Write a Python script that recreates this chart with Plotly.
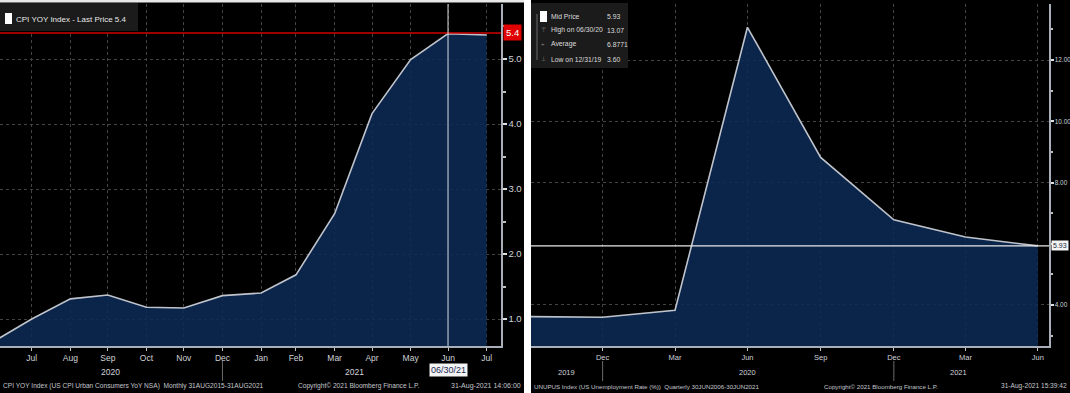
import plotly.graph_objects as go

# ---------------- data ----------------
cpi_dates = ["2020-06-30", "2020-07-31", "2020-08-31", "2020-09-30", "2020-10-31",
             "2020-11-30", "2020-12-31", "2021-01-31", "2021-02-28", "2021-03-31",
             "2021-04-30", "2021-05-31", "2021-06-30", "2021-07-31"]
cpi_values = [0.65, 1.0, 1.31, 1.37, 1.18, 1.17, 1.36, 1.40, 1.68, 2.62, 4.16, 4.99, 5.39, 5.37]
cpi_last = 5.4

cpi_tick_dates = cpi_dates[1:]
cpi_tick_labels = ["Jul", "Aug", "Sep", "Oct", "Nov", "Dec", "Jan", "Feb", "Mar",
                   "Apr", "May", "Jun", "Jul"]
cpi_y_ticks = [1, 2, 3, 4, 5]
cpi_y_labels = ["1.0", "2.0", "3.0", "4.0", "5.0"]

unemp_dates = ["2019-09-30", "2019-12-31", "2020-03-31", "2020-06-30", "2020-09-30",
               "2020-12-31", "2021-03-31", "2021-06-30"]
unemp_values = [3.62, 3.60, 3.83, 13.07, 8.82, 6.78, 6.22, 5.93]
unemp_last = 5.93

unemp_tick_dates = unemp_dates[1:]
unemp_tick_labels = ["Dec", "Mar", "Jun", "Sep", "Dec", "Mar", "Jun"]
unemp_y_ticks = [4, 8, 10, 12]
unemp_y_labels = ["4.00", "8.00", "10.00", "12.00"]

# ---------------- helpers ----------------
W, H = 1070, 393


def px(x):
    return x / W


def py(y):
    return 1 - y / H


FONT = "Liberation Sans, Arial, sans-serif"
TXT = "#cfd3d8"
GRID = "#444444"
LINE = "#bfc4cc"
FILL = "rgba(13,41,84,0.88)"

fig = go.Figure()

fig.add_trace(go.Scatter(x=cpi_dates, y=cpi_values, mode="lines", fill="tozeroy",
                         line=dict(color=LINE, width=1.6), fillcolor=FILL,
                         xaxis="x", yaxis="y", hoverinfo="skip"))
fig.add_trace(go.Scatter(x=unemp_dates, y=unemp_values, mode="lines", fill="tozeroy",
                         line=dict(color=LINE, width=1.6), fillcolor=FILL,
                         xaxis="x2", yaxis="y2", hoverinfo="skip"))

ydom = [py(346), py(4)]

common_x = dict(type="date", showgrid=True, gridcolor=GRID, griddash="dot", gridwidth=1,
                tickmode="array", ticks="outside", ticklen=3, tickcolor="#c0c0c0",
                showline=True, linecolor="#a8afb8", linewidth=2, automargin=False,
                zeroline=False, fixedrange=True)
common_y = dict(side="right", showgrid=True, gridcolor=GRID, griddash="dot", gridwidth=1,
                tickmode="array", ticks="outside", ticklen=4, tickwidth=2,
                tickcolor="#e0e0e0", showline=True, linecolor="#a8afb8", linewidth=1.5,
                zeroline=False, automargin=False, domain=ydom, fixedrange=True)

fig.update_layout(
    width=W, height=H, margin=dict(l=0, r=0, t=0, b=0, autoexpand=False),
    paper_bgcolor="black", plot_bgcolor="black", showlegend=False,
    xaxis=dict(common_x, domain=[0, px(501)], anchor="y",
               range=["2020-07-05 12:00", "2021-08-11 12:00"],
               tickvals=cpi_tick_dates, ticktext=cpi_tick_labels,
               tickfont=dict(family=FONT, size=8.5, color=TXT)),
    yaxis=dict(common_y, anchor="x", range=[0.585, 5.846],
               tickvals=cpi_y_ticks, ticktext=cpi_y_labels,
               tickfont=dict(family=FONT, size=9.5, color=TXT),
               minor=dict(tickvals=[1.5, 2.5, 3.5, 4.5, 5.5], ticks="outside",
                          ticklen=3, tickcolor="#c0c0c0", showgrid=False)),
    xaxis2=dict(common_x, domain=[px(531), px(1049)], anchor="y2",
                range=["2019-10-02", "2021-07-14"],
                tickvals=unemp_tick_dates, ticktext=unemp_tick_labels,
                tickfont=dict(family=FONT, size=7.5, color=TXT)),
    yaxis2=dict(common_y, anchor="x2", range=[2.66, 13.83],
                tickvals=unemp_y_ticks, ticktext=unemp_y_labels, ticklen=3,
                ticklabelstandoff=0,
                tickfont=dict(family=FONT, size=6.4, color=TXT),
                minor=dict(tickvals=[3, 5, 6, 7, 9, 11, 13], ticks="outside",
                           ticklen=2, tickcolor="#c0c0c0", showgrid=False)),
)

shapes = []
annotations = []

# frame: white top border on left panel and white gap between panels
shapes.append(dict(type="rect", xref="paper", yref="paper", x0=px(0), x1=px(525),
                   y0=py(2.5), y1=py(0), fillcolor="#e8e8e8", line=dict(width=0)))
shapes.append(dict(type="rect", xref="paper", yref="paper", x0=px(524), x1=px(531),
                   y0=0, y1=1, fillcolor="white", line=dict(width=0)))

# last price red line (left)
shapes.append(dict(type="line", xref="x domain", yref="y", x0=0, x1=1,
                   y0=cpi_last, y1=cpi_last, line=dict(color="#d00000", width=1.6)))
# crosshair at 06/30/21
shapes.append(dict(type="line", xref="x", yref="y domain", x0="2021-06-30", x1="2021-06-30",
                   y0=0, y1=1, line=dict(color="#d8dce2", width=1)))
# mid price white line (right)
shapes.append(dict(type="line", xref="x2 domain", yref="y2", x0=0, x1=1,
                   y0=unemp_last, y1=unemp_last, line=dict(color="#e8e8e8", width=1.2)))

# year row dividers
for xr, d in [("x", "2020-12-31"), ("x2", "2019-12-31"), ("x2", "2020-12-31")]:
    shapes.append(dict(type="line", xref=xr, yref="paper", x0=d, x1=d,
                       y0=py(381), y1=py(361), line=dict(color="#6a6a6a", width=1)))

# legend box (left)
shapes.append(dict(type="rect", xref="paper", yref="paper", x0=px(0), x1=px(138),
                   y0=py(31), y1=py(3), fillcolor="#1b1b1b", line=dict(width=0)))
shapes.append(dict(type="rect", xref="paper", yref="paper", x0=px(5), x1=px(12),
                   y0=py(24), y1=py(13), fillcolor="white", line=dict(width=0)))
annotations.append(dict(xref="paper", yref="paper", x=px(14), y=py(19), xanchor="left",
                        yanchor="middle", showarrow=False,
                        text="CPI YOY Index - Last Price 5.4",
                        font=dict(family=FONT, size=8, color="#e6e6e6")))

# legend box (right)
shapes.append(dict(type="rect", xref="paper", yref="paper", x0=px(531), x1=px(628),
                   y0=py(68), y1=py(3), fillcolor="#1b1b1b", line=dict(width=0)))
shapes.append(dict(type="line", xref="paper", yref="paper", x0=px(537), x1=px(537),
                   y0=py(60), y1=py(14), line=dict(color="#6a6a6a", width=1)))
shapes.append(dict(type="rect", xref="paper", yref="paper", x0=px(540), x1=px(547),
                   y0=py(22), y1=py(11), fillcolor="white", line=dict(width=0)))
legend_rows = [("Mid Price", "5.93", 16, ""),
               ("High on 06/30/20", "13.07", 30, "⊤"),
               ("Average", "6.8771", 44, "+"),
               ("Low on 12/31/19", "3.60", 59, "⊥")]
for label, val, yy, sym in legend_rows:
    annotations.append(dict(xref="paper", yref="paper", x=px(549), y=py(yy), xanchor="left",
                            yanchor="middle", showarrow=False, text=label,
                            font=dict(family=FONT, size=6.8, color="#dcdcdc")))
    annotations.append(dict(xref="paper", yref="paper", x=px(605), y=py(yy), xanchor="left",
                            yanchor="middle", showarrow=False, text=val,
                            font=dict(family=FONT, size=6.8, color="#dcdcdc")))
    if sym:
        annotations.append(dict(xref="paper", yref="paper", x=px(543), y=py(yy), xanchor="center",
                                yanchor="middle", showarrow=False, text=sym,
                                font=dict(family=FONT, size=6, color="#8a8a8a")))

# value flags on axes
annotations.append(dict(xref="paper", yref="y", x=px(503), y=cpi_last, xanchor="left",
                        yanchor="middle", showarrow=False, text="5.4",
                        bgcolor="#e00000", borderpad=2,
                        font=dict(family=FONT, size=9.5, color="white")))
annotations.append(dict(xref="paper", yref="y2", x=px(1051), y=unemp_last, xanchor="left",
                        yanchor="middle", showarrow=False, text="5.93",
                        bgcolor="#f4f4f4", borderpad=1,
                        font=dict(family=FONT, size=7, color="#222a44")))
annotations.append(dict(xref="x", yref="paper", x="2021-06-30", y=py(370), xanchor="center",
                        yanchor="middle", showarrow=False, text="06/30/21",
                        bgcolor="#f4f4f4", borderpad=1,
                        font=dict(family=FONT, size=9, color="#1c2a55")))

# year labels
for xr, d, t, fs in [("x", "2020-10-02", "2020", 8.5), ("x", "2021-04-16", "2021", 8.5),
                     ("x2", "2019-11-16", "2019", 7.5), ("x2", "2020-06-30", "2020", 7.5),
                     ("x2", "2021-03-22", "2021", 7.5)]:
    annotations.append(dict(xref=xr, yref="paper", x=d, y=py(372), xanchor="center",
                            yanchor="middle", showarrow=False, text=t,
                            font=dict(family=FONT, size=fs, color=TXT)))

# footers
footers = [
    (1, "left", "CPI YOY Index (US CPI Urban Consumers YoY NSA)  Monthly 31AUG2015-31AUG2021", 6.6),
    (296, "left", "Copyright© 2021 Bloomberg Finance L.P.", 6.6),
    (523, "right", "31-Aug-2021 14:06:00", 7),
    (532, "left", "UNUPUS Index (US Unemployment Rate (%))  Quarterly 30JUN2006-30JUN2021", 6.2),
    (822, "left", "Copyright© 2021 Bloomberg Finance L.P.", 6.2),
    (1069, "right", "31-Aug-2021 15:39:42", 6.6),
]
for xx, anc, t, fs in footers:
    annotations.append(dict(xref="paper", yref="paper", x=px(xx), y=py(386), xanchor=anc,
                            yanchor="middle", showarrow=False, text=t,
                            font=dict(family=FONT, size=fs, color="#c4c8ce")))

fig.update_layout(shapes=shapes, annotations=annotations)
fig.write_html("out.html", config={"displayModeBar": False, "staticPlot": True},
               post_script="document.body.style.margin='0';document.body.style.padding='0';")
